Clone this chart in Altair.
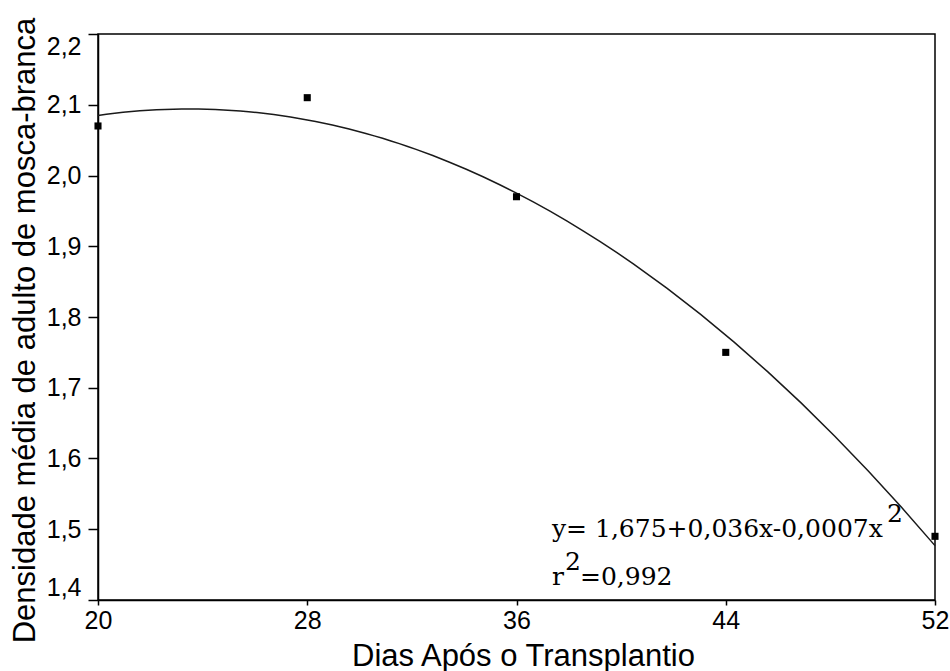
import altair as alt
import pandas as pd

# Days after transplanting and mean whitefly adult density
dias = [20, 28, 36, 44, 52]
densidade = [2.07, 2.11, 1.97, 1.75, 1.49]

x_ticks = [20, 28, 36, 44, 52]
y_ticks = [1.4, 1.5, 1.6, 1.7, 1.8, 1.9, 2.0, 2.1, 2.2]

eq_main = "y= 1,675+0,036x-0,0007x"
r_main = "r"
r_rest = "=0,992"
sup = "2"

df = pd.DataFrame({"dias": dias, "densidade": densidade})

W, H = 837, 566
sans = "Liberation Sans"
serif = "DejaVu Serif"

x_enc = alt.X(
    "dias:Q",
    scale=alt.Scale(domain=[20, 52], nice=False, zero=False),
    axis=alt.Axis(
        values=x_ticks,
        title="Dias Após o Transplantio",
        titleFontSize=31,
        titleFont=sans,
        titleFontWeight="normal",
        titleColor="black",
        titleX=425,
        titleY=65,
        titleAnchor="middle",
        titleAlign="center",
        titleBaseline="alphabetic",
        labelFont=sans,
        labelFontSize=25,
        labelColor="black",
        labelPadding=3,
        labelFlush=False,
        tickSize=5,
        tickColor="black",
        tickWidth=1.5,
        domainColor="black",
        domainWidth=1.5,
        grid=False,
    ),
)

y_enc = alt.Y(
    "densidade:Q",
    scale=alt.Scale(domain=[1.4, 2.2], nice=False, zero=False),
    axis=alt.Axis(
        values=y_ticks,
        title="Densidade média de adulto de mosca-branca",
        titleFontSize=31,
        titleFont=sans,
        titleFontWeight="normal",
        titleColor="black",
        titleAngle=-90,
        titleX=-73,
        titleY=296,
        titleAlign="center",
        titleBaseline="middle",
        labelFont=sans,
        labelFontSize=25,
        labelColor="black",
        labelPadding=7,
        labelFlush=True,
        labelExpr="replace(format(datum.value, '.1f'), '.', ',')",
        tickSize=10,
        tickColor="black",
        tickWidth=1.5,
        domainColor="black",
        domainWidth=1.5,
        grid=False,
    ),
)

base = alt.Chart(df)

pontos = base.mark_square(size=50, color="black", opacity=1).encode(x=x_enc, y=y_enc)

curva = (
    base.transform_regression("dias", "densidade", method="poly", order=2)
    .mark_line(color="#1a1a1a", strokeWidth=1.5)
    .encode(x="dias:Q", y="densidade:Q")
)


def texto(t, x, y, size=25):
    return (
        alt.Chart(pd.DataFrame({"t": [t]}))
        .mark_text(font=serif, fontSize=size, color="black", align="left", baseline="alphabetic")
        .encode(text="t:N", x=alt.value(x), y=alt.value(y))
    )


anotacoes = [
    texto(eq_main, 454, 503),
    texto(sup, 789, 488),
    texto(r_main, 454, 551),
    texto(sup, 467, 536),
    texto(r_rest, 482, 551),
]

chart = (
    alt.layer(curva, pontos, *anotacoes)
    .properties(
        width=W,
        height=H,
        autosize=alt.AutoSizeParams(type="none"),
        padding={"left": 98, "top": 34, "right": 15, "bottom": 71},
        background="white",
    )
    .configure_view(stroke="black", strokeWidth=1.5)
)

chart.save("out.html", embed_options={"renderer": "svg", "actions": False})
